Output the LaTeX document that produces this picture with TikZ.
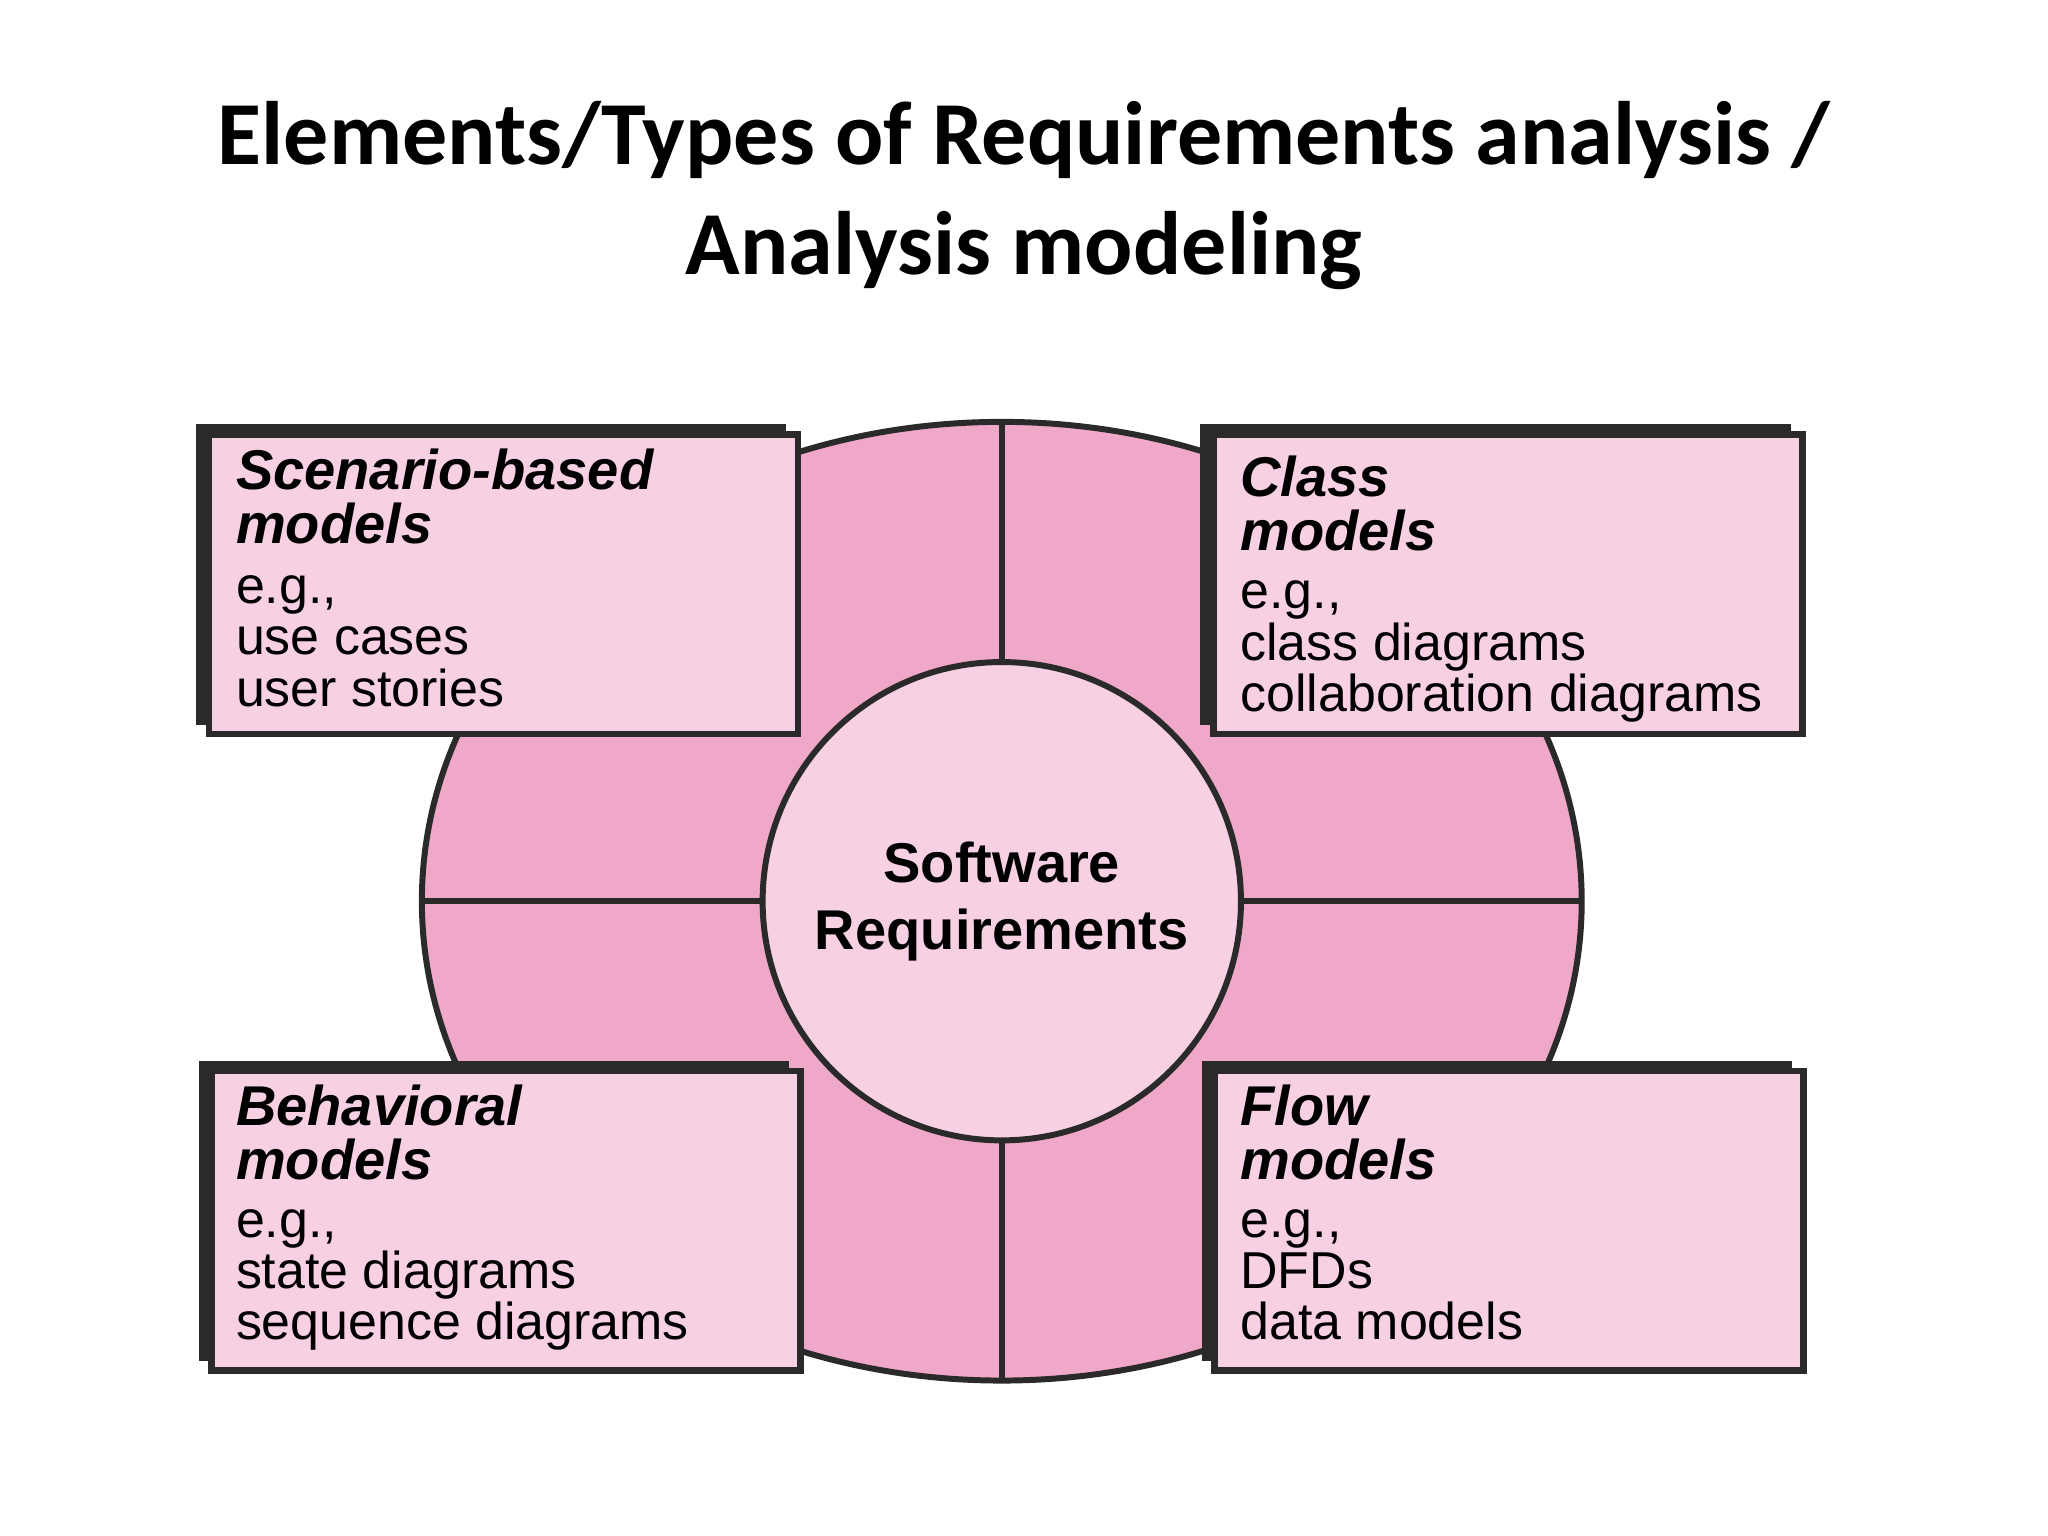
\documentclass[tikz,border=0pt]{standalone}
\usepackage{fontspec}
\setmainfont{Liberation Sans}
\newfontfamily\titlefont{Carlito}
\definecolor{pinkA}{HTML}{F0A8C8}
\definecolor{pinkB}{HTML}{F8D0E4}
\definecolor{edge}{HTML}{2A2A2A}
\begin{document}
\begin{tikzpicture}[x=0.01cm,y=-0.01cm,
  modelbox/.style={draw=edge,line width=1.5pt,fill=pinkB},
  shadowbox/.style={fill=edge},
  head/.style={anchor=north west,align=left,font=\fontsize{12.2}{11.8}\selectfont\bfseries\itshape,inner sep=0pt},
  body/.style={anchor=north west,align=left,font=\fontsize{11.3}{11.2}\selectfont,inner sep=0pt}]
\useasboundingbox (0,0) rectangle (1568,1176);
\node[font=\titlefont\fontsize{19.6}{24}\selectfont\bfseries,align=center] (title) at (784,150)
  {Elements/Types of Requirements analysis /\\Analysis modeling};
\fill[pinkA,draw=edge,line width=1.3pt] (767,690) ellipse [x radius=444,y radius=367];
\draw[edge,line width=1.3pt] (767,323) -- (767,1057) (323,690) -- (1211,690);
\node[circle,draw=edge,line width=1.3pt,fill=pinkB,minimum size=3.66cm,
  font=\fontsize{12.2}{14.5}\selectfont\bfseries,align=center] (core) at (767,690) {Software\\Requirements};
\foreach \x/\y/\n in {160/333/tl,929/333/tr,162/820/bl,930/820/br}{
  \fill[shadowbox] (\x-10,\y-8) rectangle (\x+442,\y+222);
  \draw[modelbox] (\x,\y) rectangle (\x+451,\y+229);
}
\node[head] (h1) at (180,343) {Scenario-based\\models};
\node[body] (b1) at (180,440) {e.g.,\\use cases\\user stories};
\node[head] (h2) at (949,348) {Class\\models};
\node[body] (b2) at (949,444) {e.g.,\\class diagrams\\collaboration diagrams};
\node[head] (h3) at (180,830) {Behavioral\\models};
\node[body] (b3) at (180,925) {e.g.,\\state diagrams\\sequence diagrams};
\node[head] (h4) at (949,830) {Flow\\models};
\node[body] (b4) at (949,925) {e.g.,\\DFDs\\data models};
\end{tikzpicture}
\end{document}
